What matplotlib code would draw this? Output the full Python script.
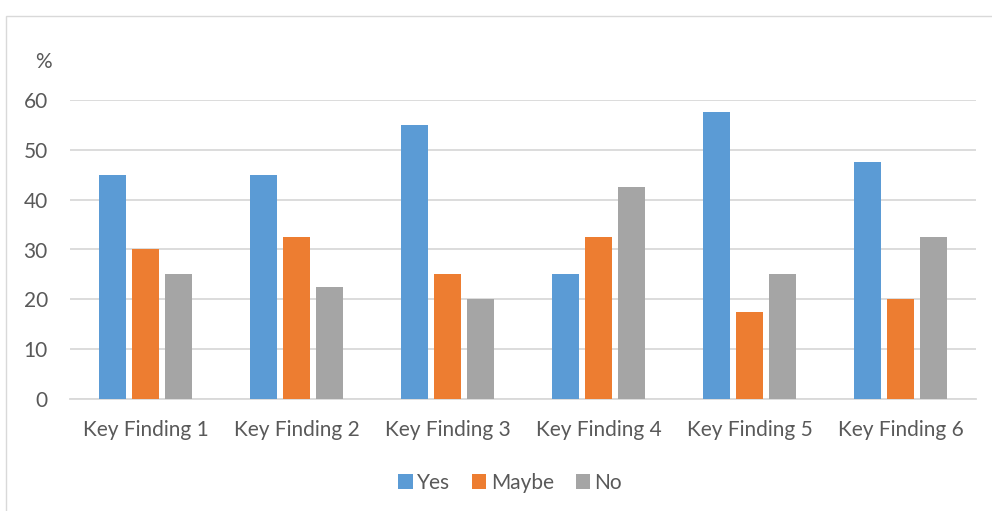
import matplotlib
matplotlib.use("Agg")
import matplotlib.pyplot as plt
import numpy as np
from matplotlib.patches import Rectangle, Patch

categories = ["Key Finding 1", "Key Finding 2", "Key Finding 3",
              "Key Finding 4", "Key Finding 5", "Key Finding 6"]
yes = [45, 45, 55, 25, 57.5, 47.5]
maybe = [30, 32.5, 25, 32.5, 17.5, 20]
no = [25, 22.5, 20, 42.5, 25, 32.5]
series_names = ["Yes", "Maybe", "No"]
colors = ["#5B9BD5", "#ED7D31", "#A5A5A5"]
yticks = [0, 10, 20, 30, 40, 50, 60]

W, H = 992, 511
fig = plt.figure(figsize=(W / 100, H / 100), dpi=100)
plt.rcParams['font.family'] = ['Lato', 'DejaVu Sans']
txt = "#595959"
grid = "#D9D9D9"
fs = 15

# chart border
fig.patches.append(Rectangle((6 / W, -0.1), 1.2, (H - 16) / H + 0.1,
                             transform=fig.transFigure, fill=False,
                             edgecolor=grid, linewidth=1.0))

ax = fig.add_axes([70 / W, (H - 399) / H, (976 - 70) / W, (399 - 100) / H])
x = np.arange(len(categories))
bw = 0.179
step = 0.219
for i, (vals, name, c) in enumerate(zip([yes, maybe, no], series_names, colors)):
    ax.bar(x + (i - 1) * step, vals, width=bw, color=c, label=name, zorder=3)

ax.set_xlim(-0.5, len(categories) - 0.5)
ax.set_ylim(0, 60)
ax.set_yticks(yticks)
ax.set_xticks(x)
ax.set_xticklabels(categories)
ax.yaxis.grid(True, color=grid, linewidth=1.3, zorder=0)
for s in ["top", "right", "left"]:
    ax.spines[s].set_visible(False)
ax.spines["bottom"].set_color(grid)
ax.spines["bottom"].set_linewidth(1.3)
ax.tick_params(axis="both", length=0, labelsize=fs, colors=txt)
ax.tick_params(axis="y", pad=16)
ax.tick_params(axis="x", pad=15)
ax.set_facecolor("none")

fig.text(43 / W, 1 - 62 / H, "%", fontsize=fs, color=txt, ha="center", va="center")

handles = [Patch(facecolor=c, label=n) for c, n in zip(colors, series_names)]
fig.legend(handles=handles, loc="center", bbox_to_anchor=(510 / W, 1 - 483 / H),
           ncol=3, frameon=False, fontsize=fs, labelcolor=txt,
           handlelength=0.7, handleheight=0.7, handletextpad=0.2, columnspacing=1.05)

fig.savefig("out.png", dpi=100)
